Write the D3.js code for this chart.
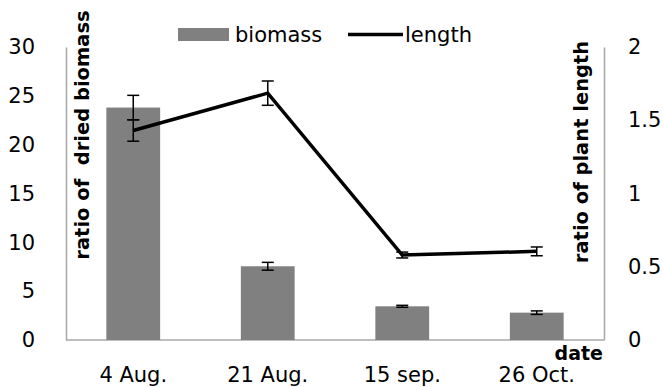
<!DOCTYPE html>
<html>
<head>
<meta charset="utf-8">
<script src="https://cdn.jsdelivr.net/npm/d3@7"></script>
<style>
  body { margin: 0; background: #fff; }
  text { font-family: "DejaVu Sans", sans-serif; fill: #000; }
</style>
</head>
<body>
<svg id="chart" width="663" height="387"></svg>
<script>
// data
const dates = ["4 Aug.", "21 Aug.", "15 sep.", "26 Oct."];
const biomass = [23.8, 7.55, 3.45, 2.8];
const biomassErr = [1.25, 0.4, 0.1, 0.18];
const length = [1.43, 1.685, 0.58, 0.605];
const lengthErr = [0.073, 0.083, 0.02, 0.03];
const leftTicks = [0, 5, 10, 15, 20, 25, 30];
const rightTicks = [0, 0.5, 1, 1.5, 2];

const svg = d3.select("#chart");
const m = {left: 66, right: 604, top: 47, bottom: 340};

const x = d3.scaleBand().domain(dates).range([m.left, m.right]).paddingInner(0.6).paddingOuter(0.3);
const xc = d => x(d) + x.bandwidth() / 2;
const yL = d3.scaleLinear().domain([0, 30]).range([m.bottom, m.top]);
const yR = d3.scaleLinear().domain([0, 2]).range([m.bottom, m.top]);

// axes (no tick marks, just the lines and labels)
const axisColor = "#a8a8a8";
const leftAxis = svg.append("g").attr("transform", "translate(" + m.left + ",0)")
    .call(d3.axisLeft(yL).tickValues(leftTicks).tickSize(0).tickPadding(31));
const rightAxis = svg.append("g").attr("transform", "translate(" + m.right + ",0)")
    .call(d3.axisRight(yR).tickValues(rightTicks).tickFormat(d3.format("")).tickSize(0).tickPadding(24));
const bottomAxis = svg.append("g").attr("transform", "translate(0," + m.bottom + ")")
    .call(d3.axisBottom(x).tickSize(0).tickPadding(27));

[leftAxis, rightAxis, bottomAxis].forEach(a => {
    a.select(".domain").attr("stroke", axisColor).attr("stroke-width", 1.5);
    a.selectAll("text").style("font-family", "'DejaVu Sans', sans-serif").style("font-size", "21px").attr("fill", "#000");
});
bottomAxis.select(".domain").attr("d", "M" + m.left + ",0H" + m.right);

// bars
svg.append("g").selectAll("rect")
    .data(dates)
    .enter()
    .append("rect")
    .attr("x", d => x(d))
    .attr("width", x.bandwidth())
    .attr("y", (d, i) => yL(biomass[i]))
    .attr("height", (d, i) => m.bottom - yL(biomass[i]))
    .attr("fill", "#808080");

// error bars
function errorBars(vals, errs, scale) {
    const g = svg.append("g").attr("stroke", "#000").attr("stroke-width", 1.5);
    dates.forEach((d, i) => {
        const cx = xc(d), hi = scale(vals[i] + errs[i]), lo = scale(vals[i] - errs[i]);
        g.append("line").attr("x1", cx).attr("x2", cx).attr("y1", hi).attr("y2", lo);
        g.append("line").attr("x1", cx - 6).attr("x2", cx + 6).attr("y1", hi).attr("y2", hi);
        g.append("line").attr("x1", cx - 6).attr("x2", cx + 6).attr("y1", lo).attr("y2", lo);
    });
}
errorBars(biomass, biomassErr, yL);

// length line
const line = d3.line().x(d => xc(d[0])).y(d => yR(d[1]));
svg.append("path")
    .datum(dates.map((d, i) => [d, length[i]]))
    .attr("d", line)
    .attr("fill", "none")
    .attr("stroke", "#000")
    .attr("stroke-width", 3.5)
    .attr("stroke-linejoin", "miter");
errorBars(length, lengthErr, yR);

// axis titles
svg.append("text")
    .attr("transform", "translate(89,135) rotate(-90)")
    .attr("text-anchor", "middle")
    .style("font-size", "19.5px").style("font-weight", "bold")
    .style("white-space", "pre")
    .text("ratio of  dried biomass");
svg.append("text")
    .attr("transform", "translate(588,152) rotate(-90)")
    .attr("text-anchor", "middle")
    .style("font-size", "19.5px").style("font-weight", "bold")
    .text("ratio of plant length");
svg.append("text")
    .attr("x", 603).attr("y", 360)
    .attr("text-anchor", "end")
    .style("font-size", "19px").style("font-weight", "bold")
    .text("date");

// legend
svg.append("rect").attr("x", 178).attr("y", 28).attr("width", 51).attr("height", 13).attr("fill", "#808080");
svg.append("text").attr("x", 235).attr("y", 42).style("font-size", "21px").text("biomass");
svg.append("line").attr("x1", 348).attr("x2", 403).attr("y1", 34.5).attr("y2", 34.5)
    .attr("stroke", "#000").attr("stroke-width", 3.5);
svg.append("text").attr("x", 405).attr("y", 42).style("font-size", "21px").text("length");
</script>
</body>
</html>
